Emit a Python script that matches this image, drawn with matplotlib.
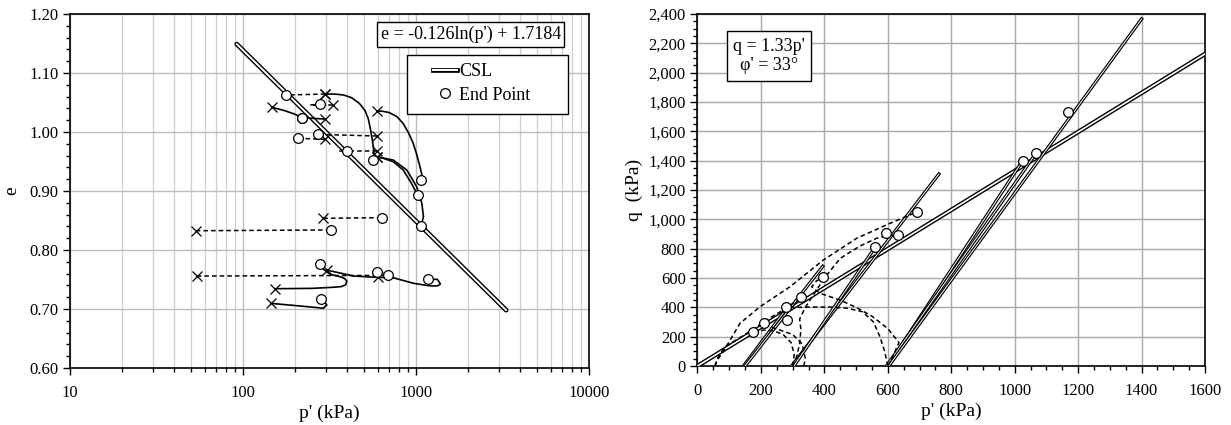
import matplotlib
matplotlib.use('Agg')
import matplotlib.pyplot as plt
from matplotlib.lines import Line2D
from matplotlib.patches import Rectangle
from matplotlib.ticker import MultipleLocator, FuncFormatter, FixedLocator, LogLocator, NullFormatter

plt.rcParams['font.family'] = ['Liberation Serif', 'DejaVu Serif']

# ---- e - log p' panel ----
csl_p = [92, 3320]
csl_e = [1.149, 0.698]

# undrained tests (dashed), first point = start (x), last point = end (o)
und_p = [
    [299, 178],
    [330, 244, 278],
    [299, 209],
    [596, 272],
    [596, 357, 398],
    [291, 633],
    [53.3, 323],
    [54, 690],
    [600, 592],
]
und_e = [
    [1.0644, 1.0627],
    [1.0458, 1.0458, 1.047],
    [0.9876, 0.9893],
    [0.9932, 0.996],
    [0.9678, 0.9678, 0.9678],
    [0.8537, 0.8548],
    [0.8327, 0.834],
    [0.7559, 0.757],
    [0.7545, 0.762],
]

# drained tests (solid)
dr_p = [
    [299, 340, 382, 425, 470, 508, 530, 545, 558, 568, 574, 562],
    [146.5, 175, 200, 219],
    [296, 260, 219],
    [596, 640, 700, 776, 840, 900, 960, 1009, 1050, 1080, 1069],
    [593, 648, 738, 843, 941, 1020],
    [593, 738, 884, 1009, 1080, 1104, 1069],
    [153, 250, 331, 370, 392, 398, 385, 363, 319, 290, 279],
    [305, 435, 592, 738, 967, 1150, 1253, 1340, 1383, 1329, 1169],
    [144.6, 213.5, 265, 291, 305, 294, 281],
]
dr_e = [
    [1.0644, 1.0643, 1.0627, 1.058, 1.0486, 1.036, 1.022, 1.005, 0.988, 0.972, 0.959, 0.9525],
    [1.042, 1.036, 1.030, 1.0243],
    [1.022, 1.023, 1.0243],
    [1.0356, 1.0352, 1.0330, 1.026, 1.015, 1.0, 0.982, 0.962, 0.943, 0.928, 0.9186],
    [0.958, 0.9554, 0.9497, 0.9356, 0.9131, 0.8932],
    [0.958, 0.9525, 0.9356, 0.9073, 0.8792, 0.8565, 0.8413],
    [0.7344, 0.7350, 0.7368, 0.738, 0.741, 0.7475, 0.752, 0.7548, 0.7588, 0.768, 0.7758],
    [0.766, 0.7559, 0.7537, 0.753, 0.7436, 0.740, 0.739, 0.7395, 0.7424, 0.7503, 0.7503],
    [0.7096, 0.7051, 0.7025, 0.7012, 0.7068, 0.7124, 0.717],
]

# ---- q - p' panel ----
fl_p = [0, 1600]
fl_q = [0, 2128]

qd_p = [
    [145, 270],
    [150, 395],
    [297, 761],
    [304, 560],
    [600, 1025],
    [596, 1067],
    [603, 1400],
]
qd_q = [
    [0, 360],
    [0, 680],
    [0, 1309],
    [0, 809],
    [0, 1400],
    [0, 1450],
    [0, 2366],
]

qu_p = [
    [55, 62, 81, 134, 197, 292, 397, 502, 607, 670, 691],
    [55, 65, 87, 150, 218, 280, 328],
    [300, 312, 322, 326, 322, 340, 370, 400, 450, 512, 565, 607, 633],
    [600, 590, 575, 555, 520, 470, 420, 360, 320, 279],
    [600, 615, 635, 600, 550, 500, 449, 386, 360, 375, 397],
    [335, 340, 330, 300, 260, 225, 210],
    [300, 305, 295, 270, 240, 210, 176],
]
qu_q = [
    [0, 40, 97, 291, 404, 541, 723, 871, 973, 1030, 1050],
    [0, 60, 132, 215, 314, 395, 468],
    [0, 60, 150, 250, 320, 400, 500, 600, 734, 818, 871, 893, 893],
    [0, 100, 200, 300, 370, 395, 402, 402, 400, 404],
    [0, 60, 160, 255, 340, 400, 450, 496, 540, 580, 605],
    [0, 50, 150, 215, 245, 270, 291],
    [0, 80, 160, 215, 240, 245, 234],
]

end_p = [176, 210, 281, 279, 326, 397, 560, 594, 633, 691, 1025, 1067, 1169]
end_q = [234, 291, 314, 404, 473, 605, 814, 909, 893, 1050, 1400, 1450, 1734]

dash = (0, (3, 2))
circ = dict(marker='o', ms=7, mfc='white', mec='black', mew=0.9, ls='none', zorder=6)
cross = dict(marker='x', ms=6.5, mec='black', mew=0.9, ls='none', zorder=5)


def main():
    fig = plt.figure(figsize=(12.31, 4.25), dpi=100)
    ax1 = fig.add_axes([0.0569, 0.1341, 0.4216, 0.8329])
    ax2 = fig.add_axes([0.5666, 0.1388, 0.4123, 0.8282])

    # left panel
    ax1.set_xscale('log')
    ax1.set_xlim(10, 10000)
    ax1.set_ylim(0.6, 1.2)
    ax1.plot(csl_p, csl_e, color='black', lw=3.4, solid_capstyle='round', zorder=3)
    ax1.plot(csl_p, csl_e, color='white', lw=1.4, solid_capstyle='round', zorder=3)
    for p, e in zip(und_p, und_e):
        ax1.plot(p, e, color='black', lw=1.1, ls=dash, zorder=4)
        ax1.plot(p[0], e[0], **cross)
        ax1.plot(p[-1], e[-1], **circ)
    for p, e in zip(dr_p, dr_e):
        ax1.plot(p, e, color='black', lw=1.2, zorder=4)
        ax1.plot(p[0], e[0], **cross)
        ax1.plot(p[-1], e[-1], **circ)

    ax1.xaxis.set_major_locator(FixedLocator([10, 100, 1000, 10000]))
    ax1.xaxis.set_major_formatter(FuncFormatter(lambda v, _: f'{v:.0f}'))
    ax1.xaxis.set_minor_locator(LogLocator(base=10, subs=range(2, 10)))
    ax1.xaxis.set_minor_formatter(NullFormatter())
    ax1.yaxis.set_major_locator(MultipleLocator(0.1))
    ax1.yaxis.set_minor_locator(MultipleLocator(0.02))
    ax1.yaxis.set_major_formatter(FuncFormatter(lambda v, _: f'{v:.2f}'))
    ax1.grid(True, which='major', color='#bdbdbd', lw=1.0, zorder=0)
    ax1.grid(True, which='minor', axis='x', color='#cfcfcf', lw=0.9, zorder=0)
    ax1.set_axisbelow(True)
    ax1.tick_params(which='both', direction='out', labelsize=12, width=1)
    ax1.tick_params(which='major', length=5)
    ax1.tick_params(which='minor', length=3)
    ax1.tick_params(axis='x', which='major', pad=7)
    for s in ax1.spines.values():
        s.set_linewidth(1.2)
    ax1.set_xlabel("p' (kPa)", fontsize=14, labelpad=3)
    ax1.set_ylabel('e', fontsize=14, labelpad=6)

    ax1.text(0.772, 0.942, "e = -0.126ln(p') + 1.7184", transform=ax1.transAxes,
             ha='center', va='center', fontsize=13, zorder=7,
             bbox=dict(boxstyle='square,pad=0.2', fc='white', ec='black', lw=1))

    # legend frame drawn separately so the entries can sit further right
    ax1.add_patch(Rectangle((0.649, 0.7175), 0.311, 0.1665, transform=ax1.transAxes,
                            fc='white', ec='black', lw=1, zorder=6.5))
    h_csl = (Line2D([], [], color='black', lw=3.4), Line2D([], [], color='white', lw=1.4))
    h_end = Line2D([], [], marker='o', ms=7, mfc='white', mec='black', mew=0.9, ls='none')
    leg = ax1.legend([h_csl, h_end], ['CSL', 'End Point'], loc='upper left',
                     bbox_to_anchor=(0.684, 0.884), fontsize=13, frameon=False,
                     handlelength=1.3, handletextpad=0.15, borderpad=0.45,
                     labelspacing=0.35, borderaxespad=0)
    leg.set_zorder(7)

    # right panel
    ax2.set_xlim(0, 1600)
    ax2.set_ylim(0, 2400)
    ax2.plot(fl_p, fl_q, color='black', lw=3.2, zorder=3)
    ax2.plot(fl_p, fl_q, color='white', lw=1.2, zorder=3)
    for p, q in zip(qd_p, qd_q):
        ax2.plot(p, q, color='black', lw=2.4, zorder=4)
        ax2.plot(p, q, color='white', lw=0.7, zorder=4)
    for p, q in zip(qu_p, qu_q):
        ax2.plot(p, q, color='black', lw=1.1, ls=dash, zorder=4)
    ax2.plot(end_p, end_q, **circ)

    ax2.xaxis.set_major_locator(MultipleLocator(200))
    ax2.xaxis.set_minor_locator(MultipleLocator(50))
    ax2.yaxis.set_major_locator(MultipleLocator(200))
    ax2.yaxis.set_minor_locator(MultipleLocator(50))
    ax2.yaxis.set_major_formatter(FuncFormatter(lambda v, _: f'{v:,.0f}'))
    ax2.grid(True, which='major', color='#a8a8a8', lw=1.0, zorder=0)
    ax2.set_axisbelow(True)
    ax2.tick_params(which='both', direction='out', labelsize=12, width=1)
    ax2.tick_params(which='major', length=5)
    ax2.tick_params(which='minor', length=3)
    ax2.tick_params(axis='x', which='major', pad=7)
    for s in ax2.spines.values():
        s.set_linewidth(1.2)
    ax2.set_xlabel("p' (kPa)", fontsize=14, labelpad=3)
    ax2.set_ylabel('q  (kPa)', fontsize=14, labelpad=4)

    ax2.text(0.141, 0.881, "q = 1.33p'\nφ' = 33°", transform=ax2.transAxes,
             ha='center', va='center', fontsize=13, multialignment='center', zorder=7,
             bbox=dict(boxstyle='square,pad=0.35', fc='white', ec='black', lw=1))

    fig.savefig('out.png', dpi=100)


if __name__ == '__main__':
    main()
